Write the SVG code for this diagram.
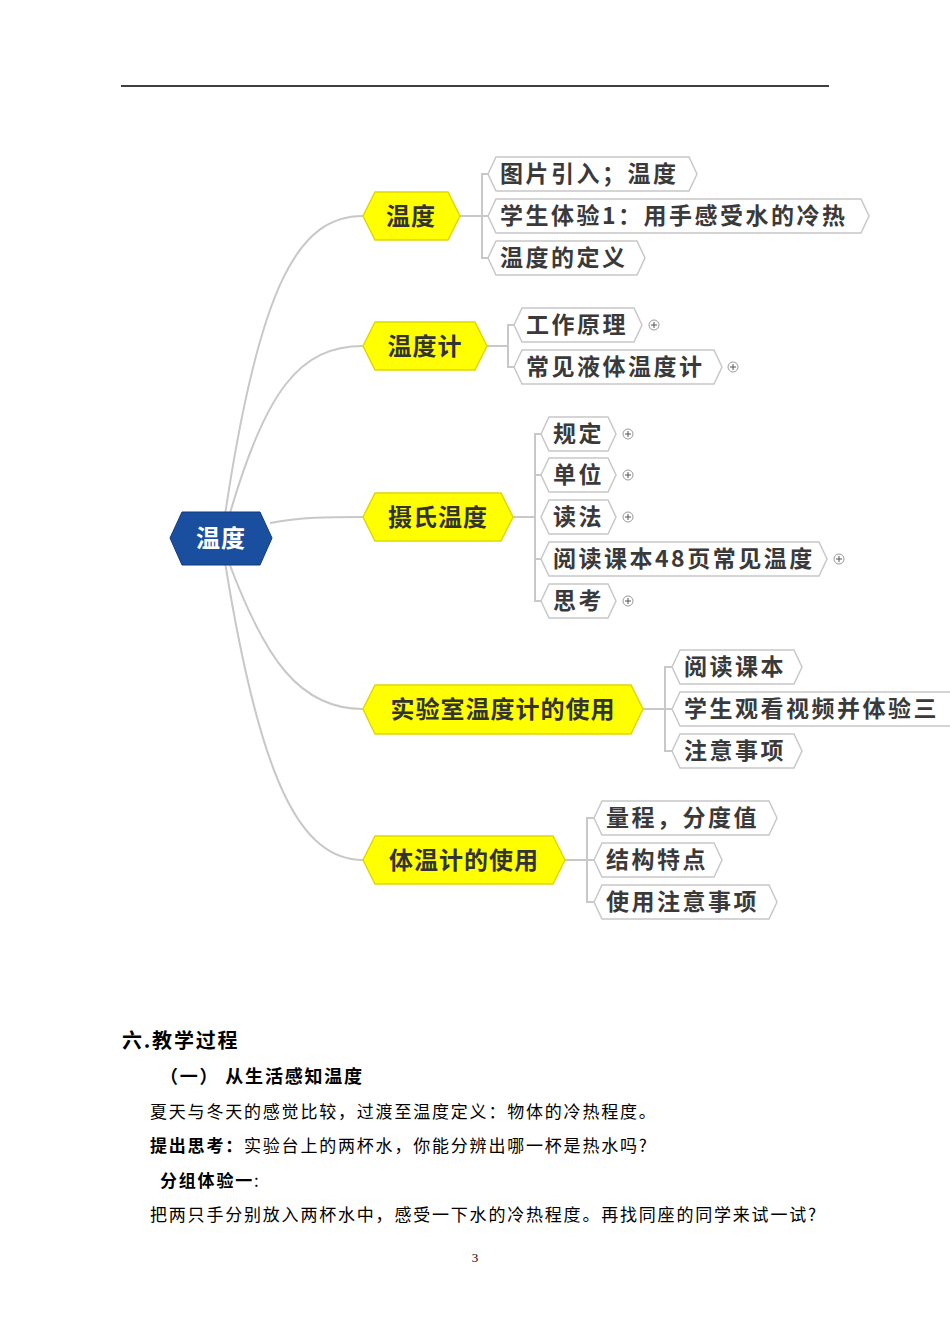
<svg xmlns="http://www.w3.org/2000/svg" width="950" height="1344" viewBox="0 0 950 1344">
<style>
.m{fill:#ffff00;stroke:#e0d800;stroke-width:1.5}
.l{fill:#fff;stroke:#c8c8c8;stroke-width:1.5}
.mt{font-family:"Noto Sans CJK SC",sans-serif;font-size:24px;font-weight:bold;fill:#333;letter-spacing:1px}
.lt{font-family:"Noto Sans CJK SC",sans-serif;font-size:23px;font-weight:bold;fill:#3a3a3a;letter-spacing:2.5px}
.c{fill:none;stroke:#c8c8c8;stroke-width:2}
.p{fill:#fff;stroke:#999;stroke-width:1}
.b{font-family:"Noto Sans CJK SC",serif;font-size:17px;fill:#000;letter-spacing:1.8px}
.bb{font-weight:bold}
</style>
<rect width="950" height="1344" fill="#fff"/>
<line x1="121" y1="86" x2="829" y2="86" stroke="#000" stroke-width="1.5"/>
<g id="connectors">
<path class="c" d="M225 515 C260 280,300 216,363 216"/>
<path class="c" d="M228 520 C265 390,300 346,363 346"/>
<path class="c" d="M270 523 C300 517,330 517,363 517"/>
<path class="c" d="M228 560 C265 660,300 709,363 709"/>
<path class="c" d="M225 562 C260 780,300 860,363 860"/>
<path class="c" d="M460 216 H482 M488 174 H482 V258 H488 M482 216 H488"/>
<path class="c" d="M487 346 H508 M514 325 H508 V367 H514"/>
<path class="c" d="M513 517 H535 M541 434 H535 V601 H541 M535 475 H541 M535 559 H541"/>
<path class="c" d="M643 709 H665 M672 667 H665 V751 H672 M665 709 H672"/>
<path class="c" d="M565 860 H587 M594 818 H587 V902 H594 M587 860 H594"/>
</g>
<g id="root"><polygon points="170,538 182,512 260,512 272,538 260,565 182,565" fill="#1a4fa0" stroke="#0d3a80"/><text x="221" y="547" text-anchor="middle" class="mt" style="fill:#fff">温度</text></g>
<g id="n1"><polygon class="m" points="363,216 375,192 448,192 460,216 448,240 375,240"/><text x="411" y="225" text-anchor="middle" class="mt">温度</text></g>
<g id="n2"><polygon class="m" points="363,346 375,322 475,322 487,346 475,370 375,370"/><text x="425" y="355" text-anchor="middle" class="mt">温度计</text></g>
<g id="n3"><polygon class="m" points="363,517 375,493 501,493 513,517 501,541 375,541"/><text x="438" y="526" text-anchor="middle" class="mt">摄氏温度</text></g>
<g id="n4"><polygon class="m" points="363,709 375,685 631,685 643,709 631,734 375,734"/><text x="503" y="718" text-anchor="middle" class="mt">实验室温度计的使用</text></g>
<g id="n5"><polygon class="m" points="363,860 375,836 553,836 565,860 553,884 375,884"/><text x="464" y="869" text-anchor="middle" class="mt">体温计的使用</text></g>
<g id="l1a"><polygon class="l" points="488,174 496,157 689,157 697,174 689,191 496,191"/><text x="500" y="182" class="lt">图片引入；温度</text></g>
<g id="l1b"><polygon class="l" points="488,216 496,199 861,199 869,216 861,233 496,233"/><text x="500" y="224" class="lt">学生体验1：用手感受水的冷热</text></g>
<g id="l1c"><polygon class="l" points="488,258 496,241 637,241 645,258 637,275 496,275"/><text x="500" y="266" class="lt">温度的定义</text></g>
<g id="l2a"><polygon class="l" points="514,325 522,308 634,308 642,325 634,342 522,342"/><text x="526" y="333" class="lt">工作原理</text><circle class="p" cx="654" cy="325" r="5"/><path d="M651 325h6M654 322v6" stroke="#555"/></g>
<g id="l2b"><polygon class="l" points="514,367 522,350 714,350 722,367 714,384 522,384"/><text x="526" y="375" class="lt">常见液体温度计</text><circle class="p" cx="733" cy="367" r="5"/><path d="M730 367h6M733 364v6" stroke="#555"/></g>
<g id="l3a"><polygon class="l" points="541,434 549,417 608,417 616,434 608,451 549,451"/><text x="553" y="442" class="lt">规定</text><circle class="p" cx="628" cy="434" r="5"/><path d="M625 434h6M628 431v6" stroke="#555"/></g>
<g id="l3b"><polygon class="l" points="541,475 549,458 608,458 616,475 608,492 549,492"/><text x="553" y="483" class="lt">单位</text><circle class="p" cx="628" cy="475" r="5"/><path d="M625 475h6M628 472v6" stroke="#555"/></g>
<g id="l3c"><polygon class="l" points="541,517 549,500 608,500 616,517 608,534 549,534"/><text x="553" y="525" class="lt">读法</text><circle class="p" cx="628" cy="517" r="5"/><path d="M625 517h6M628 514v6" stroke="#555"/></g>
<g id="l3d"><polygon class="l" points="541,559 549,542 819,542 827,559 819,576 549,576"/><text x="553" y="567" class="lt">阅读课本48页常见温度</text><circle class="p" cx="839" cy="559" r="5"/><path d="M836 559h6M839 556v6" stroke="#555"/></g>
<g id="l3e"><polygon class="l" points="541,601 549,584 608,584 616,601 608,618 549,618"/><text x="553" y="609" class="lt">思考</text><circle class="p" cx="628" cy="601" r="5"/><path d="M625 601h6M628 598v6" stroke="#555"/></g>
<g id="l4a"><polygon class="l" points="672,667 680,650 794,650 802,667 794,684 680,684"/><text x="684" y="675" class="lt">阅读课本</text></g>
<g id="l4b"><polygon class="l" points="672,709 680,692 960,692 968,709 960,726 680,726"/><text x="684" y="717" class="lt">学生观看视频并体验三</text></g>
<g id="l4c"><polygon class="l" points="672,751 680,734 794,734 802,751 794,768 680,768"/><text x="684" y="759" class="lt">注意事项</text></g>
<g id="l5a"><polygon class="l" points="594,818 602,801 769,801 777,818 769,835 602,835"/><text x="606" y="826" class="lt">量程，分度值</text></g>
<g id="l5b"><polygon class="l" points="594,860 602,843 714,843 722,860 714,877 602,877"/><text x="606" y="868" class="lt">结构特点</text></g>
<g id="l5c"><polygon class="l" points="594,902 602,885 769,885 777,902 769,919 602,919"/><text x="606" y="910" class="lt">使用注意事项</text></g>
<g id="body">
<text x="122" y="1048" class="b bb" style="font-size:20px">六.教学过程</text>
<text x="160" y="1083" class="b bb" style="font-size:18px">（一） 从生活感知温度</text>
<text x="150" y="1118" class="b">夏天与冬天的感觉比较，过渡至温度定义：物体的冷热程度。</text>
<text x="150" y="1152" class="b"><tspan font-weight="bold">提出思考：</tspan>实验台上的两杯水，你能分辨出哪一杯是热水吗?</text>
<text x="160" y="1187" class="b"><tspan font-weight="bold">分组体验一</tspan>:</text>
<text x="150" y="1221" class="b">把两只手分别放入两杯水中，感受一下水的冷热程度。再找同座的同学来试一试?</text>
<text x="475" y="1262" text-anchor="middle" font-family="Liberation Serif,serif" font-size="13">3</text>
</g>
</svg>
